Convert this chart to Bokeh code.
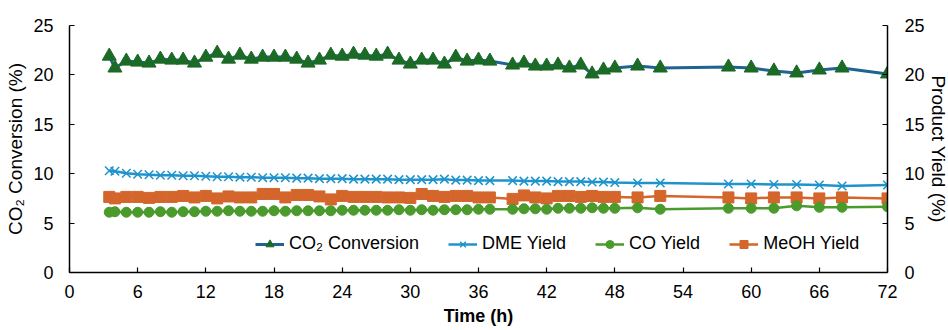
import math
from bokeh.plotting import figure
from bokeh.models import LinearAxis, Range1d, FixedTicker, Legend, LegendItem, Label
from bokeh.embed import file_html
from bokeh.resources import INLINE

hours = [3.5, 4, 5, 6, 7, 8, 9, 10, 11, 12,
         13, 14, 15, 16, 17, 18, 19, 20, 21, 22,
         23, 24, 25, 26, 27, 28, 29, 30, 31, 32,
         33, 34, 35, 36, 37,
         39, 40, 41, 42, 43, 44, 45, 46, 47, 48,
         50, 52, 58, 60, 62, 64, 66, 68, 72]

co2_conversion = [21.9, 20.7, 21.4, 21.3, 21.2, 21.6, 21.5, 21.5, 21.2, 21.8,
                  22.2, 21.6, 22.0, 21.6, 21.8, 21.8, 21.8, 21.6, 21.2, 21.5,
                  22.0, 21.9, 22.1, 22.0, 21.9, 22.1, 21.5, 21.1, 21.5, 21.5,
                  21.1, 21.8, 21.4, 21.5, 21.4,
                  21.0, 21.2, 20.9, 20.9, 21.0, 20.7, 21.0, 20.1, 20.5, 20.7,
                  20.9, 20.7, 20.8, 20.7, 20.4, 20.2, 20.5, 20.7, 20.1]

dme_yield = [10.3, 10.25, 10.05, 9.95, 9.9, 9.85, 9.85, 9.8, 9.8, 9.75,
             9.7, 9.7, 9.65, 9.65, 9.6, 9.6, 9.6, 9.55, 9.55, 9.5,
             9.5, 9.5, 9.45, 9.45, 9.45, 9.45, 9.4, 9.4, 9.4, 9.4,
             9.45, 9.35, 9.35, 9.3, 9.3,
             9.3, 9.25, 9.25, 9.25, 9.2, 9.2, 9.2, 9.15, 9.15, 9.1,
             9.05, 9.05, 8.95, 8.95, 8.9, 8.9, 8.85, 8.75, 8.85]

co_yield = [6.1, 6.15, 6.1, 6.1, 6.1, 6.15, 6.1, 6.15, 6.15, 6.2,
            6.2, 6.25, 6.2, 6.2, 6.2, 6.25, 6.2, 6.25, 6.25, 6.25,
            6.25, 6.3, 6.3, 6.3, 6.3, 6.3, 6.35, 6.3, 6.35, 6.3,
            6.35, 6.35, 6.35, 6.4, 6.4,
            6.4, 6.45, 6.45, 6.4, 6.5, 6.5, 6.5, 6.55, 6.5, 6.5,
            6.55, 6.4, 6.5, 6.5, 6.5, 6.75, 6.6, 6.6, 6.65]

meoh_yield = [7.65, 7.5, 7.65, 7.65, 7.55, 7.65, 7.65, 7.75, 7.6, 7.75,
              7.5, 7.7, 7.6, 7.6, 7.95, 7.95, 7.6, 7.85, 7.85, 7.7,
              7.4, 7.75, 7.65, 7.65, 7.65, 7.6, 7.6, 7.55, 7.95, 7.75,
              7.65, 7.75, 7.75, 7.6, 7.6,
              7.45, 7.8, 7.6, 7.5, 7.75, 7.75, 7.65, 7.75, 7.65, 7.65,
              7.6, 7.75, 7.6, 7.5, 7.6, 7.6, 7.5, 7.6, 7.5]

x_ticks = [0, 6, 12, 18, 24, 30, 36, 42, 48, 54, 60, 66, 72]
y_ticks = [0, 5, 10, 15, 20, 25]

FONT = "Liberation Sans"

p = figure(width=948, height=330, output_backend="svg", toolbar_location=None,
           x_range=Range1d(0, 72), y_range=Range1d(0, 25),
           min_border_left=69, min_border_right=59,
           min_border_top=25, min_border_bottom=58)
p.outline_line_color = None
p.xgrid.visible = False
p.ygrid.visible = False
p.background_fill_color = "white"


def style_axis(ax):
    ax.axis_line_color = "black"
    ax.axis_line_width = 1.5
    ax.major_tick_in = 5
    ax.major_tick_out = 0
    ax.major_tick_line_color = "black"
    ax.major_tick_line_width = 1.2
    ax.minor_tick_line_color = None
    ax.major_label_text_font = FONT
    ax.major_label_text_font_size = "18px"
    ax.major_label_text_color = "black"
    ax.axis_label_text_font = FONT
    ax.axis_label_text_font_size = "19px"
    ax.axis_label_text_font_style = "normal"
    ax.axis_label_text_color = "black"


xa = p.xaxis[0]
xa.ticker = FixedTicker(ticks=x_ticks)
xa.axis_label = "Time (h)"
style_axis(xa)
xa.axis_label_text_font_style = "bold"
xa.axis_label_text_font_size = "18px"
xa.major_label_standoff = 12
xa.axis_label_standoff = 5

ya = p.yaxis[0]
ya.ticker = FixedTicker(ticks=y_ticks)
ya.axis_label = "CO\u2082 Conversion (%)"
style_axis(ya)
ya.major_label_standoff = 16
ya.axis_label_standoff = 4

ra = LinearAxis(ticker=FixedTicker(ticks=y_ticks))
style_axis(ra)
ra.major_label_standoff = 17
p.add_layout(ra, "right")

# right axis title drawn as a rotated label in the right margin panel
right_title = Label(x=11, y=123.5, x_units="screen", y_units="screen",
                    text="Product Yield (%)", angle=-math.pi / 2,
                    text_align="center", text_baseline="middle",
                    text_font=FONT, text_font_size="19px", text_color="black")
p.add_layout(right_title, "right")

C_CO2_LINE = "#1F6391"
C_CO2_MARK = "#1B6A25"
C_DME = "#1E93CC"
C_CO = "#4A9A2C"
C_MEOH = "#D4652B"

l1 = p.line(hours, co2_conversion, line_color=C_CO2_LINE, line_width=3)
m1 = p.scatter(hours, co2_conversion, marker="triangle", size=14,
               fill_color=C_CO2_MARK, line_color=C_CO2_MARK)

l2 = p.line(hours, dme_yield, line_color=C_DME, line_width=2.5)
m2 = p.scatter(hours, dme_yield, marker="x", size=12,
               line_color=C_DME, line_width=1.5)

l4 = p.line(hours, meoh_yield, line_color=C_MEOH, line_width=2.5)
m4 = p.scatter(hours, meoh_yield, marker="square", size=11,
               fill_color=C_MEOH, line_color=C_MEOH)

l3 = p.line(hours, co_yield, line_color=C_CO, line_width=2.5)
m3 = p.scatter(hours, co_yield, marker="circle", size=10,
               fill_color=C_CO, line_color=C_CO)

legend = Legend(items=[
    LegendItem(label="CO\u2082 Conversion", renderers=[l1, m1]),
    LegendItem(label="DME Yield", renderers=[l2, m2]),
    LegendItem(label="CO Yield", renderers=[l3, m3]),
    LegendItem(label="MeOH Yield", renderers=[l4, m4]),
], orientation="horizontal", location=(186, 18))
legend.border_line_color = None
legend.background_fill_alpha = 0
legend.padding = 0
legend.margin = 0
legend.spacing = 29
legend.glyph_width = 29
legend.glyph_height = 20
legend.label_height = 20
legend.label_standoff = 5
legend.label_text_font = FONT
legend.label_text_font_size = "18px"
legend.label_text_color = "black"
p.add_layout(legend, "center")

open("out.html", "w").write(file_html(p, INLINE))
